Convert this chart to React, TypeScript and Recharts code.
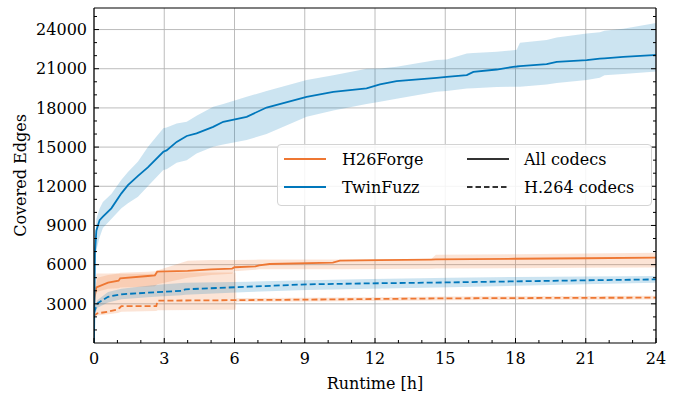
import React from 'react';
import { ComposedChart, Line, Area, XAxis, YAxis, CartesianGrid, Legend, Label } from 'recharts';

const ORANGE = '#EE7733';
const BLUE = '#0077BB';
const FONT = '"DejaVu Serif", serif';

const xTicks = [0, 3, 6, 9, 12, 15, 18, 21, 24];
const xMinorTicks = [1, 2, 4, 5, 7, 8, 10, 11, 13, 14, 16, 17, 19, 20, 22, 23];
const yTicks = [3000, 6000, 9000, 12000, 15000, 18000, 21000, 24000];
const yMinorTicks = [1000, 2000, 4000, 5000, 7000, 8000, 10000, 11000, 13000, 14000, 16000, 17000, 19000, 20000, 22000, 23000, 25000];
const xDomain = [0, 24];
const yDomain = [0, 25650];

const legendLabels = ['H26Forge', 'TwinFuzz', 'All codecs', 'H.264 codecs'];

// TwinFuzz, all codecs
const twinAllH = [0, 0.04, 0.1, 0.24, 0.38, 0.74, 1.17, 1.45, 1.88, 2.3, 2.96, 3.1, 3.53, 3.96, 4.38, 5.09, 5.52, 6.52, 7.37, 9.08, 10.22, 11.64, 12.21, 12.92, 14.63, 15.06, 15.92, 16.2, 17.2, 17.9, 18.05, 18.19, 19.33, 19.76, 21.04, 21.6, 21.8, 22.6, 23.88, 24];
const twinAllMean = [0, 6900, 8600, 9410, 9670, 10310, 11460, 12090, 12800, 13450, 14640, 14750, 15400, 15850, 16050, 16550, 16940, 17320, 18030, 18850, 19230, 19490, 19800, 20050, 20300, 20380, 20510, 20760, 20940, 21150, 21170, 21200, 21350, 21530, 21660, 21780, 21800, 21900, 22040, 22050];
const twinAllLow = [0, 6000, 7100, 8100, 8800, 9500, 10310, 10700, 11200, 12000, 13240, 13300, 13800, 14000, 14500, 15020, 15200, 15540, 16000, 17320, 17800, 18300, 18470, 18700, 19230, 19300, 19490, 19500, 19600, 19620, 19620, 19620, 19800, 19900, 20130, 20300, 20510, 20600, 20760, 20780];
const twinAllHigh = [0, 7500, 9500, 10300, 10800, 11400, 12500, 13100, 13900, 15000, 16450, 16500, 16800, 16940, 17400, 18080, 18300, 18850, 19300, 20130, 20500, 21000, 21020, 21150, 21660, 21700, 22170, 22200, 22300, 22420, 22450, 22980, 23200, 23400, 23700, 23800, 23900, 24070, 24460, 24500];

// TwinFuzz, H.264 codecs
const twinH264H = [0, 0.04, 0.15, 0.6, 1.17, 2.59, 3.73, 3.9, 6.58, 9.08, 11.9, 15.2, 18, 21, 24];
const twinH264Mean = [2300, 2525, 3040, 3540, 3730, 3880, 4000, 4110, 4310, 4490, 4570, 4640, 4720, 4800, 4870];
const twinH264Low = [2000, 2200, 2700, 3100, 3350, 3550, 3650, 3700, 3900, 4050, 4150, 4260, 4380, 4500, 4620];
const twinH264High = [2600, 2800, 3300, 3900, 4150, 4450, 4600, 4620, 4690, 4800, 4900, 5000, 5050, 5100, 5130];

// H26Forge, all codecs
const forgeAllH = [0, 0.03, 0.1, 0.6, 1.05, 1.12, 2.3, 2.6, 2.7, 4.0, 5.0, 5.9, 6.0, 6.9, 7.05, 7.5, 10.2, 10.5, 12.2, 14.4, 14.6, 18, 21, 24];
const forgeAllMean = [3000, 3540, 4250, 4620, 4770, 4950, 5130, 5180, 5460, 5530, 5640, 5700, 5800, 5860, 5950, 6050, 6150, 6300, 6350, 6390, 6400, 6450, 6490, 6530];
const forgeAllLow = [2900, 3300, 3900, 4150, 4200, 4250, 4300, 4350, 4500, 5000, 5200, 5300, 5500, 5600, 5640, 5640, 5640, 5640, 5660, 5690, 5700, 5730, 5760, 5790];
const forgeAllHigh = [3400, 4500, 5330, 5330, 5350, 5380, 5460, 5500, 5550, 6300, 6350, 6350, 6350, 6380, 6400, 6400, 6400, 6400, 6420, 6430, 6750, 6800, 6850, 6910];

// H26Forge, H.264 codecs
const forgeH264H = [0, 0.03, 0.15, 0.6, 1.02, 1.1, 1.17, 2.66, 2.72, 6.05, 6.08, 6.58, 9, 12, 15.2, 18, 21, 24];
const forgeH264Mean = [2000, 2140, 2270, 2400, 2580, 2700, 2830, 2830, 3240, 3280, 3280, 3290, 3320, 3370, 3420, 3440, 3460, 3470];
const forgeH264Low = [1900, 2000, 2100, 2200, 2300, 2350, 2400, 2450, 2500, 2550, 3150, 3160, 3180, 3220, 3270, 3300, 3320, 3340];
const forgeH264High = [2300, 4000, 5000, 5200, 5300, 5300, 5300, 5300, 5400, 5400, 3430, 3440, 3460, 3500, 3560, 3580, 3600, 3610];

const build = (h: number[], m: number[], lo: number[], hi: number[]) =>
  h.map((x, i) => ({ h: x, mean: m[i], range: [lo[i], hi[i]] }));

const twinAll = build(twinAllH, twinAllMean, twinAllLow, twinAllHigh);
const twinH264 = build(twinH264H, twinH264Mean, twinH264Low, twinH264High);
const forgeAll = build(forgeAllH, forgeAllMean, forgeAllLow, forgeAllHigh);
const forgeH264 = build(forgeH264H, forgeH264Mean, forgeH264Low, forgeH264High);

const allXTicks = [...xTicks, ...xMinorTicks].sort((a, b) => a - b);
const allYTicks = [...yTicks, ...yMinorTicks].sort((a, b) => a - b);

const DASH = '6 3';
const LW = 1.8;
const MAJOR = 5;
const MINOR = 3;

const legendEntries = [
  { label: legendLabels[0], color: ORANGE, dash: undefined as string | undefined, left: 7, textLeft: 65, row: 15.3 },
  { label: legendLabels[1], color: BLUE, dash: undefined as string | undefined, left: 7, textLeft: 65, row: 43.3 },
  { label: legendLabels[2], color: '#333', dash: undefined as string | undefined, left: 190, textLeft: 247, row: 15.3 },
  { label: legendLabels[3], color: '#333', dash: '5.5 3', left: 190, textLeft: 247, row: 43.3 },
];

const LegendBox = () => (
  <div
    style={{
      position: 'relative',
      width: 375,
      height: 62,
      boxSizing: 'border-box',
      border: '1px solid #d4d4d4',
      borderRadius: 4,
      background: 'rgba(255,255,255,0.85)',
      fontFamily: FONT,
      fontSize: 16,
      color: '#000',
    }}
  >
    {legendEntries.map((e) => (
      <React.Fragment key={e.label}>
        <svg width={42} height={6} style={{ position: 'absolute', left: e.left - 1, top: e.row - 1 - 3 }}>
          <line x1={0} x2={42} y1={3} y2={3} stroke={e.color} strokeWidth={LW} strokeDasharray={e.dash} />
        </svg>
        <div
          style={{
            position: 'absolute',
            left: e.textLeft - 1,
            top: e.row - 1 - 9,
            height: 20,
            lineHeight: '20px',
            whiteSpace: 'nowrap',
          }}
        >
          {e.label}
        </div>
      </React.Fragment>
    ))}
  </div>
);

const textProps = { fontFamily: FONT, fontSize: 16, fill: '#000' };

const BottomTick = (props: any) => {
  const { x, y, payload } = props;
  const major = xTicks.includes(payload.value);
  return (
    <g>
      <line x1={x} x2={x} y1={y} y2={y - (major ? MAJOR : MINOR)} stroke="#000" strokeWidth={1} />
      {major && (
        <text x={x} y={y + 20.5} textAnchor="middle" {...textProps}>
          {payload.value}
        </text>
      )}
    </g>
  );
};

const TopTick = (props: any) => {
  const { x, y, payload } = props;
  const major = xTicks.includes(payload.value);
  return <line x1={x} x2={x} y1={y} y2={y + (major ? MAJOR : MINOR)} stroke="#000" strokeWidth={1} />;
};

const LeftTick = (props: any) => {
  const { x, y, payload } = props;
  const major = yTicks.includes(payload.value);
  return (
    <g>
      <line x1={x} x2={x + (major ? MAJOR : MINOR)} y1={y} y2={y} stroke="#000" strokeWidth={1} />
      {major && (
        <text x={x - 7} y={y + 5.7} textAnchor="end" {...textProps}>
          {payload.value}
        </text>
      )}
    </g>
  );
};

const RightTick = (props: any) => {
  const { x, y, payload } = props;
  const major = yTicks.includes(payload.value);
  return <line x1={x} x2={x - (major ? MAJOR : MINOR)} y1={y} y2={y} stroke="#000" strokeWidth={1} />;
};

export default function App() {
  return (
    <div style={{ position: 'absolute', left: 0, top: 0, width: 678, height: 399, background: '#fff' }}>
      <ComposedChart width={678} height={399} margin={{ top: 7, right: 21, bottom: 55, left: 93 }}>
        <CartesianGrid
          xAxisId="b"
          yAxisId="l"
          stroke="#b4b4b4"
          strokeWidth={0.9}
          horizontalValues={yTicks}
          verticalValues={xTicks}
        />
        <XAxis
          xAxisId="b"
          dataKey="h"
          type="number"
          domain={xDomain}
          ticks={allXTicks}
          orientation="bottom"
          height={1}
          tickSize={0}
          tickMargin={0}
          tickLine={false}
          tick={<BottomTick />}
          interval={0}
          axisLine={{ stroke: '#000', strokeWidth: 1.2 }}
          allowDataOverflow
        >
          <Label value="Runtime [h]" position="bottom" offset={33.5} style={textProps} />
        </XAxis>
        <XAxis
          xAxisId="t"
          type="number"
          domain={xDomain}
          ticks={allXTicks}
          orientation="top"
          height={1}
          tickSize={0}
          tickMargin={0}
          tickLine={false}
          tick={<TopTick />}
          interval={0}
          axisLine={{ stroke: '#000', strokeWidth: 1.2 }}
          allowDataOverflow
        />
        <YAxis
          yAxisId="l"
          type="number"
          domain={yDomain}
          ticks={allYTicks}
          orientation="left"
          width={1}
          tickSize={0}
          tickMargin={0}
          tickLine={false}
          tick={<LeftTick />}
          interval={0}
          axisLine={{ stroke: '#000', strokeWidth: 1.2 }}
          allowDataOverflow
        >
          <Label value="Covered Edges" angle={-90} position="left" offset={73} style={{ ...textProps, textAnchor: 'middle' }} />
        </YAxis>
        <YAxis
          yAxisId="r"
          type="number"
          domain={yDomain}
          ticks={allYTicks}
          orientation="right"
          width={1}
          tickSize={0}
          tickMargin={0}
          tickLine={false}
          tick={<RightTick />}
          interval={0}
          axisLine={{ stroke: '#000', strokeWidth: 1.2 }}
          allowDataOverflow
        />

        <Area xAxisId="b" yAxisId="l" data={forgeH264} dataKey="range" type="linear" stroke="none" fill={ORANGE} fillOpacity={0.2} isAnimationActive={false} />
        <Area xAxisId="b" yAxisId="l" data={forgeAll} dataKey="range" type="linear" stroke="none" fill={ORANGE} fillOpacity={0.2} isAnimationActive={false} />
        <Area xAxisId="b" yAxisId="l" data={twinH264} dataKey="range" type="linear" stroke="none" fill={BLUE} fillOpacity={0.2} isAnimationActive={false} />
        <Area xAxisId="b" yAxisId="l" data={twinAll} dataKey="range" type="linear" stroke="none" fill={BLUE} fillOpacity={0.2} isAnimationActive={false} />

        <Line xAxisId="b" yAxisId="l" data={forgeH264} dataKey="mean" type="linear" stroke={ORANGE} strokeWidth={LW} strokeDasharray={DASH} dot={false} isAnimationActive={false} />
        <Line xAxisId="b" yAxisId="l" data={twinH264} dataKey="mean" type="linear" stroke={BLUE} strokeWidth={LW} strokeDasharray={DASH} dot={false} isAnimationActive={false} />
        <Line xAxisId="b" yAxisId="l" data={forgeAll} dataKey="mean" type="linear" stroke={ORANGE} strokeWidth={LW} dot={false} isAnimationActive={false} />
        <Line xAxisId="b" yAxisId="l" data={twinAll} dataKey="mean" type="linear" stroke={BLUE} strokeWidth={LW} dot={false} isAnimationActive={false} />

        <Legend
          layout="horizontal"
          verticalAlign="middle"
          align="center"
          width={375}
          height={62}
          wrapperStyle={{ left: 277, top: 144, width: 375, height: 62 }}
          content={() => <LegendBox />}
        />
      </ComposedChart>
    </div>
  );
}
